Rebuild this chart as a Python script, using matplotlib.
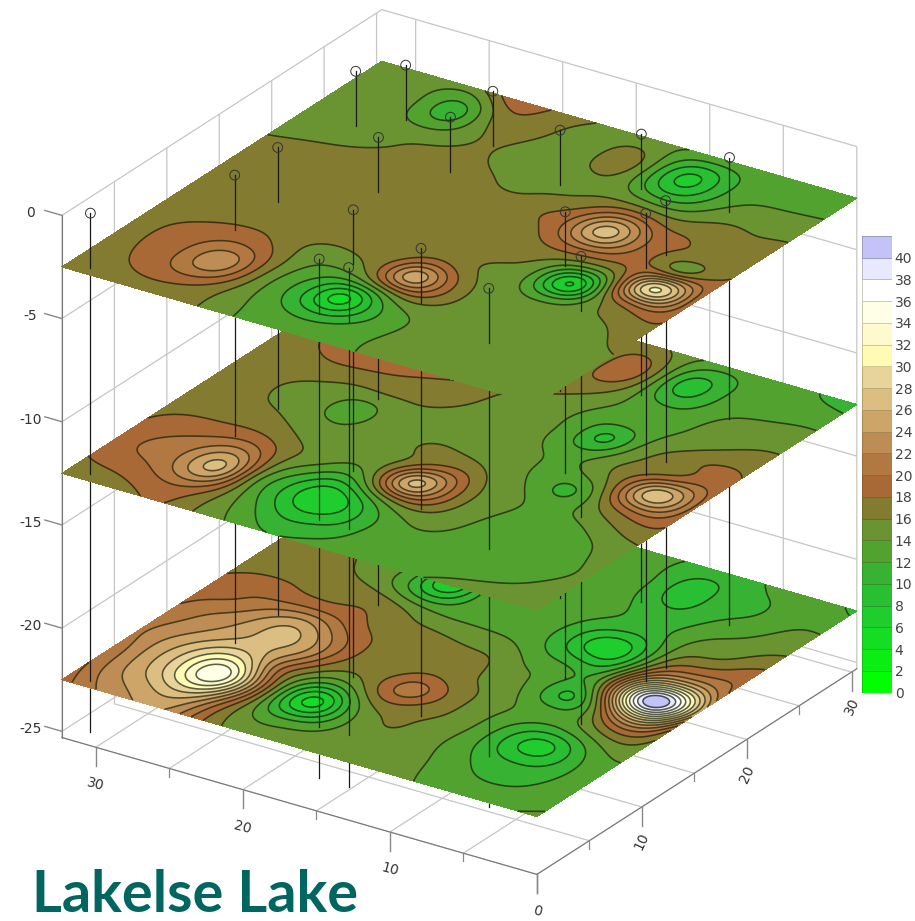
import numpy as np
import matplotlib
matplotlib.use("Agg")
import matplotlib.pyplot as plt
from matplotlib.colors import ListedColormap, BoundaryNorm

# grid of the three mapped depths
X_NODES = [0, 3, 5, 7.2, 9.3, 11.5, 13.7, 15, 17, 18.6, 21, 23, 25.2, 27.5, 30, 32.3]
Y_NODES = [0, 2.5, 5.2, 7.3, 9.4, 11.3, 13.2, 15.3, 17.5, 19.6, 21.5, 24, 27.5, 30.5]

TOP_LAYER = [
    [15,15,15,15,15,14.3,13.6,13.3,12.9,13.2,14.2,16,16.6,17,17,17],
    [15,15,15,15,15,14.4,13,12,10.8,11.6,13.8,16.2,19,19,17.8,17],
    [15,15,15,15,15,14.4,12.8,10,4.5,9,13.4,18,24,20.5,18.3,17],
    [16,15,15,15,15,15.8,17.9,17,13.5,12.6,14.2,17.5,20.5,19.5,18.2,17],
    [17,15.3,15,15,15,16.2,22.5,26.5,18.8,16,15.2,16.5,18,18,17.5,17],
    [17.8,16.5,15,12.3,14.2,15.5,18,19.5,17,16.7,16.8,17,17,17,17,17],
    [18.5,20.5,15,4.5,12.8,15.8,16.5,16.8,17,17,17,17,17,17,17,17],
    [18.6,32,19,13.5,15.5,16.8,17,17,17,17,17,17,17,17,17,17],
    [18.4,15.8,18.2,19.6,21,19,17,17,17,17,17,17,17,17,17,17],
    [17.7,17,18.2,21.5,28,21,18,17,17,17,17,17,17,16.6,16.3,16],
    [16.8,16.8,18,19,22,18.8,16.6,16.2,15.5,16.3,16.8,16.7,16.2,15.7,15.4,15.2],
    [16,16,15.8,14,13.8,15,15.4,15,15,15.2,16.2,15.9,15.4,15.2,15,15],
    [13.9,13.7,13.4,10.8,6.8,12.5,17.5,16.3,15,15.7,16.8,15.8,10.5,13.8,15,15],
    [13.5,13.5,13.6,13.6,13.8,14,15,15.2,15.7,16.4,18.2,19.8,16,15,15,15],
]
MID_LAYER = [
    [15,15,14.8,14.2,13.4,13,13,12.8,12.1,12,13.8,15.5,18,17.8,17,16.5],
    [15,13.8,13.3,13,13,13,12.6,11,9.5,9.2,12.2,15.5,20,20,18.6,18],
    [14.5,13,13,13,13.6,14.3,13,11,7,6,10.5,15.5,27,23,20.5,18.8],
    [15.3,13,13,13,14,15.8,18.3,17.5,12.5,9.5,12.5,16.3,23,21.5,19.8,18.3],
    [15.8,14.2,13,13.2,14.5,16.5,24,28,18.5,14,15,16.3,18.5,18.7,18.5,17.5],
    [17.5,16.2,14.6,13,14.4,15.8,20,20,16.2,15,14.7,15,16.3,17,16.6,16.5],
    [18.5,20.5,16.3,11.2,13.3,14.8,16.2,16.5,16.5,15.3,14.9,14,15,16,16.6,16.6],
    [19.3,28.5,19.5,14.5,13.3,14.5,15,15,15,15,15,12.7,14.6,15.5,16.7,16.8],
    [18.7,18.8,17,15.5,12.8,13.6,14.7,15,15,15.6,16,15.9,15.8,16.5,17,17],
    [18,18,16.5,14,9,13.2,14.3,15,15.4,16.4,17,17.6,18,18.2,17.5,17],
    [17,16.3,15,13.5,12.3,13.3,14.8,15.5,15.8,17,18.4,19,19.5,19,18,17],
    [15.5,15,14.5,13,13,14.3,16.5,16.8,17,17.5,19,19.5,19.5,18.5,17.5,17],
    [13.4,13.2,13,11.5,8.5,15.5,20,17.5,16.5,16.5,17,17,17,17,17,17],
    [11,12.2,13,13,13.3,15,16.5,16.8,17,17,17,17,17,17,17,17],
]
BOTTOM_LAYER = [
    [14.3,13.5,13.2,13.4,14.5,15,15,15,14.8,14.5,15.5,18.6,24,24,22,19],
    [13.5,12,11.8,12.5,14.1,15,15.2,15,13.4,12.5,13.8,20,28,27,24,20],
    [13.4,10.5,9.5,11,13.5,15.3,16.2,15.5,10.8,4.5,12,24,36.5,31,25,20.5],
    [13.8,10,6.5,10,13.7,15.8,17,18,15.5,11.5,14.3,20.5,30,29,24.5,21.5],
    [14.6,13.6,11.5,12,14,15.9,19.2,21.5,18.3,16.3,18,23.5,26.5,25.5,23,20.8],
    [16,18.5,14.3,12.8,13.9,15.7,17.2,18.1,17,16.5,19.3,24,27,24.5,22,20],
    [19,29,18,9,12.8,14.7,16.5,17,17,17,18.3,21,24.3,22.5,20,19.2],
    [25,44,29,12.8,13,13.8,15.7,16,16.4,16.8,17,18.3,18.5,18.7,19.5,18.3],
    [21,28,23,11,9.5,11.5,13.7,14,14.1,14.2,15.5,17,17.3,17.4,17.3,17],
    [19.5,19,17,9,6,10.3,13,13.5,13.4,12.8,9.5,12.5,15.3,16.5,17,17],
    [18.3,15.8,15,11.2,10,11.5,13.2,13.3,13.3,13,5.5,11.8,14.8,16,16.5,16.5],
    [15.8,14.3,13.5,11.5,11,12.5,13.3,13.5,13.5,13.5,13.5,13.8,14.5,15,15.5,15.5],
    [13.7,13,11.5,10.8,8.5,11.7,13,13.5,13.5,13.5,13.5,14,15,15,15,15],
    [11.5,12.8,12.6,11.5,11.2,11.9,13,13.5,13.5,13.5,13.5,14,15,15,15,15],
]
LAYER_DEPTHS = [-2.5, -12.5, -22.5]

# boreholes
WELL_X = [30.9,26.9,26.9,28.8,26.9,22.9,21,20.9,14.9,10.8,4.95,18.8,12.8,16.8,14.8,6.7,8.7,4.8,4.8,4.7]
WELL_Y = [0.75,8.9,13,23.1,25.2,17,21.2,25.1,23.1,25.1,25.3,8.85,6.9,2.8,2.8,4.8,14.9,17.1,19,10.8]
WELL_TOP = 0.15
WELL_BOTTOM = -25

LEVELS = list(range(0, 44, 2))
LEVEL_COLOURS = [
    (0,255,0),(10,238,20),(20,222,35),(30,206,45),(40,192,50),(55,178,50),(82,162,48),
    (106,148,50),(130,123,48),(168,105,55),(178,120,65),(190,140,85),(205,165,105),
    (220,190,130),(232,212,155),(255,250,180),(255,250,205),(255,255,230),(255,255,255),
    (232,232,255),(195,195,250),
]
COLOURS = [tuple(c / 255 for c in rgb) for rgb in LEVEL_COLOURS]

MAJOR_TICKS = [0, 10, 20, 30]
MINOR_TICKS = [5, 15, 25]
ZTICKS = [0, -5, -10, -15, -20, -25]
ZTICK_LABELS = ["0", "-5", "-10", "-15", "-20", "-25"]
TITLE = "Lakelse Lake"

W, H = 915, 921
FLOOR = -25.3
plt.rcParams["grid.color"] = "#c6c6c6"
plt.rcParams["grid.linewidth"] = 0.9
fig = plt.figure(figsize=(W / 100, H / 100), dpi=100, facecolor="white")

size = 879
ax = fig.add_axes([8 / W, 27.6 / H, size / W, size / H], projection="3d",
                  computed_zorder=False, proj_type="ortho")
ax.set_box_aspect((0.994, 1, 1.006), zoom=1.1)
ax.view_init(elev=25.5, azim=-56.2)
ax.patch.set_alpha(0)
ax.set_xlim(32.3, 0)
ax.set_ylim(0, 30.5)
ax.set_zlim(FLOOR, 0)

all_ticks = sorted(MAJOR_TICKS + MINOR_TICKS)
x_text = [str(t) if t in MAJOR_TICKS else "" for t in all_ticks]
y_text = [str(t) if t in MAJOR_TICKS and t != 0 else "" for t in all_ticks]
ax.set_xticks(all_ticks, x_text)
ax.set_yticks(all_ticks, y_text)
ax.set_zticks(ZTICKS, ZTICK_LABELS)
ax.tick_params(axis="x", labelsize=10, labelcolor="#333333", color="#888888", pad=10, labelrotation=-15)
ax.tick_params(axis="y", labelsize=10, labelcolor="#333333", color="#888888", pad=7, labelrotation=65)
ax.tick_params(axis="z", labelsize=10, labelcolor="#333333", color="#888888", pad=14)
for axis in (ax.xaxis, ax.yaxis, ax.zaxis):
    axis.set_pane_color((1, 1, 1, 0))
    axis.pane.set_edgecolor("#adadad")
    axis.line.set_color("#777777")
    axis._axinfo["tick"]["color"] = "#888888"
    axis._axinfo["tick"]["linewidth"] = {True: 1.0, False: 0.8}
    axis._axinfo["tick"]["outward_factor"] = 0.45
    axis._axinfo["tick"]["inward_factor"] = 0.0
ax.zaxis._axinfo["juggled"] = (1, 2, 0)
# ticks and labels of the floor axes hang straight down, those of the depth axis go along x
ax.xaxis._get_tickdir = lambda pos: 2
ax.yaxis._get_tickdir = lambda pos: 2
ax.xaxis._axmask = lambda: [False, False, True]
ax.yaxis._axmask = lambda: [False, False, True]
ax.zaxis._axmask = lambda: [True, False, False]
for axis in (ax.xaxis, ax.yaxis):
    for t, tick in zip(all_ticks, axis.get_major_ticks()):
        if t in MINOR_TICKS:
            tick.tick1line.draw = lambda renderer: None
for t in MINOR_TICKS:
    ax.plot([t, t], [0, 0], [FLOOR, FLOOR - 0.4], color="#888888", lw=0.9, zorder=0.5)
    ax.plot([0, 0], [t, t], [FLOOR, FLOOR - 0.4], color="#888888", lw=0.9, zorder=0.5)

# smooth surface through the read values
nx, ny = np.meshgrid(X_NODES, Y_NODES)
nodes = np.column_stack([nx.ravel(), ny.ravel()])
fx, fy = np.meshgrid(np.linspace(0, 32.3, 300), np.linspace(0, 30.5, 280))
fine = np.column_stack([fx.ravel(), fy.ravel()])
r = np.linalg.norm(nodes[:, None] - nodes[None], axis=2)
P = np.column_stack([np.ones(len(nodes)), nodes])
K = np.block([[r ** 3, P], [P.T, np.zeros((3, 3))]])
rf = np.linalg.norm(fine[:, None] - nodes[None], axis=2)
Kf = np.column_stack([rf ** 3, np.ones(len(fine)), fine])
half = 12
kernel = np.exp(-0.5 * (np.arange(-half, half + 1) / 4.2) ** 2)
kernel /= kernel.sum()

def soften(field):
    padded = np.pad(field, half, mode="reflect", reflect_type="odd")
    padded = np.apply_along_axis(lambda m: np.convolve(m, kernel, mode="same"), 0, padded)
    padded = np.apply_along_axis(lambda m: np.convolve(m, kernel, mode="same"), 1, padded)
    return padded[half:-half, half:-half]

def surface(layer):
    v = np.array(layer, dtype=float).ravel()
    w = np.linalg.solve(K, np.concatenate([v, np.zeros(3)]))
    return np.clip(soften((Kf @ w).reshape(fx.shape)), 0.1, 41.9)

def sticks(z_hi, z_lo, order):
    for wx, wy in zip(WELL_X, WELL_Y):
        ax.plot([wx, wx], [wy, wy], [z_hi, z_lo], color="#1a1a1a", lw=0.9, zorder=order)

sticks(LAYER_DEPTHS[2], WELL_BOTTOM, 1)
orders = [20, 10, 2]
for layer, depth, base in zip([TOP_LAYER, MID_LAYER, BOTTOM_LAYER], LAYER_DEPTHS, orders):
    zf = surface(layer)
    ax.contourf(fx, fy, zf, levels=LEVELS, colors=COLOURS, zdir="z", offset=depth, zorder=base)
    ax.contour(fx, fy, zf, levels=LEVELS, colors=[(0.08, 0.10, 0.02, 0.7)], linewidths=1.15,
               zdir="z", offset=depth, zorder=base + 1)

sticks(LAYER_DEPTHS[1], LAYER_DEPTHS[2], 5)
sticks(LAYER_DEPTHS[0], LAYER_DEPTHS[1], 15)
sticks(WELL_TOP, LAYER_DEPTHS[0], 25)
ax.scatter(WELL_X, WELL_Y, [WELL_TOP] * len(WELL_X), s=50, facecolors="none", edgecolors="#333333",
           linewidths=0.7, depthshade=False, zorder=30)

# colour scale
cax = fig.add_axes([862 / W, (H - 692.5) / H, 30 / W, (692.5 - 236) / H])
cmap = ListedColormap(COLOURS)
norm = BoundaryNorm(LEVELS, cmap.N)
cax.pcolormesh([0, 1], LEVELS, np.array([[v] for v in np.array(LEVELS[:-1]) + 1]), cmap=cmap, norm=norm,
               edgecolors=(0.2, 0.2, 0.1, 0.25), linewidth=0.6)
cax.set_ylim(0, 42)
cax.set_xticks([])
cax.yaxis.tick_right()
cax.set_yticks(LEVELS[:-1], [str(v) for v in LEVELS[:-1]])
cax.tick_params(axis="y", length=0, pad=2, labelsize=10, labelcolor="#444444")
for s in cax.spines.values():
    s.set_visible(False)

fig.text(32 / W, (H - 912) / H, TITLE, color="#00665f", fontsize=41.5, fontweight="bold",
         family="Lato", va="baseline", ha="left")
fig.savefig("out.png", dpi=100, facecolor="white")
